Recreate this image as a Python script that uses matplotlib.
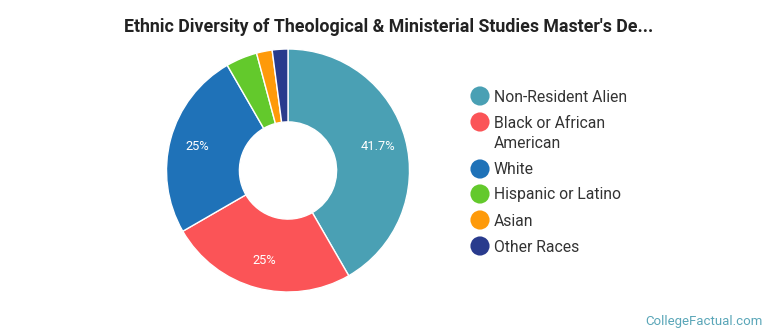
import numpy as np
import matplotlib.pyplot as plt

# data
labels = ['Non-Resident Alien', 'Black or African\nAmerican', 'White',
          'Hispanic or Latino', 'Asian', 'Other Races']
counts = [20, 12, 12, 2, 1, 1]
colors = ['#4aa0b4', '#fb5457', '#1f72b8', '#63c92c', '#fe9a0a', '#293b8d']
shown_pct = ['41.7%', '25%', '25%', '', '', '']

plt.rcParams['font.family'] = ['Roboto', 'DejaVu Sans']

W, H = 770, 335
fig = plt.figure(figsize=(W / 100, H / 100), dpi=100)

# donut axes, centre (288, 170), radius ~122 px
cx, cy, r = 288, 170.5, 121.5
ax = fig.add_axes([(cx - r) / W, (H - cy - r) / H, 2 * r / W, 2 * r / H])
wedges, _ = ax.pie(counts, colors=colors, startangle=90, counterclock=False,
                   radius=1, wedgeprops=dict(width=0.6, edgecolor='white', linewidth=1))
ax.set_xlim(-1, 1)
ax.set_ylim(-1, 1)
ax.set_aspect('equal')

total = sum(counts)
start = 90
for w, txt in zip(counts, shown_pct):
    ang = start - 360 * w / total / 2
    start -= 360 * w / total
    if txt:
        ax.text(0.77 * np.cos(np.radians(ang)), 0.77 * np.sin(np.radians(ang)), txt,
                ha='center', va='center', color='white', fontsize=9.3)

# overlay in pixel coordinates for title / legend / credit
ov = fig.add_axes([0, 0, 1, 1], facecolor='none')
ov.set_xlim(0, W)
ov.set_ylim(H, 0)
ov.axis('off')

ov.text(389, 27, "Ethnic Diversity of Theological & Ministerial Studies Master's De...",
        ha='center', va='center', fontsize=12.8, fontweight='bold', color='#222222')

# legend drawn by hand
rows_y = [96, 122, 169, 194, 220, 246]
for lab, col, y in zip(labels, colors, rows_y):
    ov.scatter([480], [y], s=190, color=col, edgecolors='none')
    for k, line in enumerate(lab.split('\n')):
        ov.text(494, y + 1 + k * 21, line, ha='left', va='center',
                fontsize=11.3, color='#333333')

ov.text(763, 321, 'CollegeFactual.com', ha='right', va='center',
        fontsize=9.5, color='#5aa6b8')

fig.savefig('out.png', dpi=100)
